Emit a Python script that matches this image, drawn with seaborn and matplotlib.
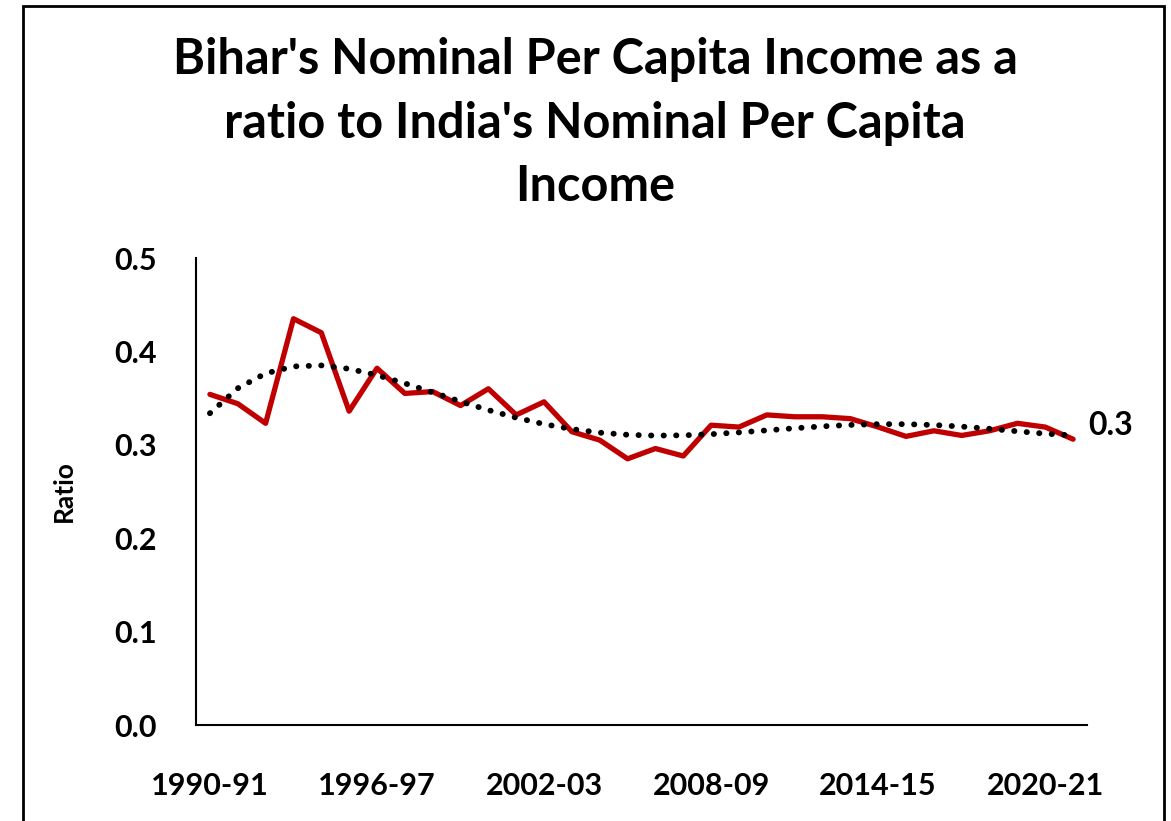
import numpy as np
import pandas as pd
import matplotlib
matplotlib.use("Agg")
import matplotlib.pyplot as plt
from matplotlib.patches import Rectangle
import seaborn as sns

years = ["1990-91", "1991-92", "1992-93", "1993-94", "1994-95", "1995-96", "1996-97",
         "1997-98", "1998-99", "1999-00", "2000-01", "2001-02", "2002-03", "2003-04",
         "2004-05", "2005-06", "2006-07", "2007-08", "2008-09", "2009-10", "2010-11",
         "2011-12", "2012-13", "2013-14", "2014-15", "2015-16", "2016-17", "2017-18",
         "2018-19", "2019-20", "2020-21", "2021-22"]
ratio = [0.354, 0.344, 0.323, 0.435, 0.420, 0.336, 0.382, 0.355, 0.357, 0.342,
         0.360, 0.332, 0.346, 0.314, 0.305, 0.285, 0.296, 0.288, 0.321, 0.319,
         0.332, 0.330, 0.330, 0.328, 0.319, 0.309, 0.315, 0.310, 0.315, 0.323,
         0.319, 0.306]
yticks = [0.0, 0.1, 0.2, 0.3, 0.4, 0.5]
xtick_every = 6

title = "Bihar's Nominal Per Capita Income as a\nratio to India's Nominal Per Capita\nIncome"

sns.set_theme(style="white")
plt.rcParams['font.family'] = ['Lato', 'DejaVu Sans']

df = pd.DataFrame({"pos": np.arange(len(years)), "year": years, "ratio": ratio})
coef = np.polyfit(df["pos"] + 1, df["ratio"], 5)
df["trend"] = np.polyval(coef, df["pos"] + 1)

fig = plt.figure(figsize=(11.71, 8.21), dpi=100)
ax = fig.add_axes([196/1171, 1-725/821, (1087-196)/1171, (725-258)/821])

sns.lineplot(data=df, x="pos", y="ratio", ax=ax, color="#C00000", linewidth=3.8)
sns.lineplot(data=df, x="pos", y="trend", ax=ax, color="black", linewidth=4.2,
             linestyle=(0, (0.05, 2.1)))
ax.lines[-1].set_dash_capstyle("round")

ax.set_xlim(-0.5, len(years) - 0.5)
ax.set_ylim(0, 0.5)
ax.set_yticks(yticks)
ax.set_yticklabels([f"{v:.1f}" for v in yticks])
xt = list(range(0, len(years), xtick_every))
ax.set_xticks(xt)
ax.set_xticklabels([years[i] for i in xt])
ax.tick_params(axis="both", length=0, labelsize=22)
ax.tick_params(axis="y", pad=28)
ax.tick_params(axis="x", pad=34)
for t in ax.get_xticklabels() + ax.get_yticklabels():
    t.set_fontweight("bold")
    t.set_color("black")

sns.despine(ax=ax)
for s in ["left", "bottom"]:
    ax.spines[s].set_color("black")
    ax.spines[s].set_linewidth(1.5)

ax.set_xlabel("")
ax.set_ylabel("Ratio", fontsize=19, fontweight="bold", color="black")
ax.yaxis.set_label_coords(-0.135, 0.5)

ax.annotate(f"{ratio[-1]:.1f}", xy=(len(years) - 1, ratio[-1]), xytext=(11, 10),
            textcoords="offset points", fontsize=23, fontweight="bold",
            ha="left", va="center", color="black", annotation_clip=False)

fig.text(595/1171, 1-123/821, title, ha="center", va="center", fontsize=35,
         fontweight="bold", linespacing=1.5, color="black")

fig.patches.append(Rectangle((23/1171, -0.05), (1164-23)/1171, 1.05 - 6/821,
                             transform=fig.transFigure, fill=False,
                             edgecolor="black", linewidth=2))

fig.savefig("out.png", dpi=100)
